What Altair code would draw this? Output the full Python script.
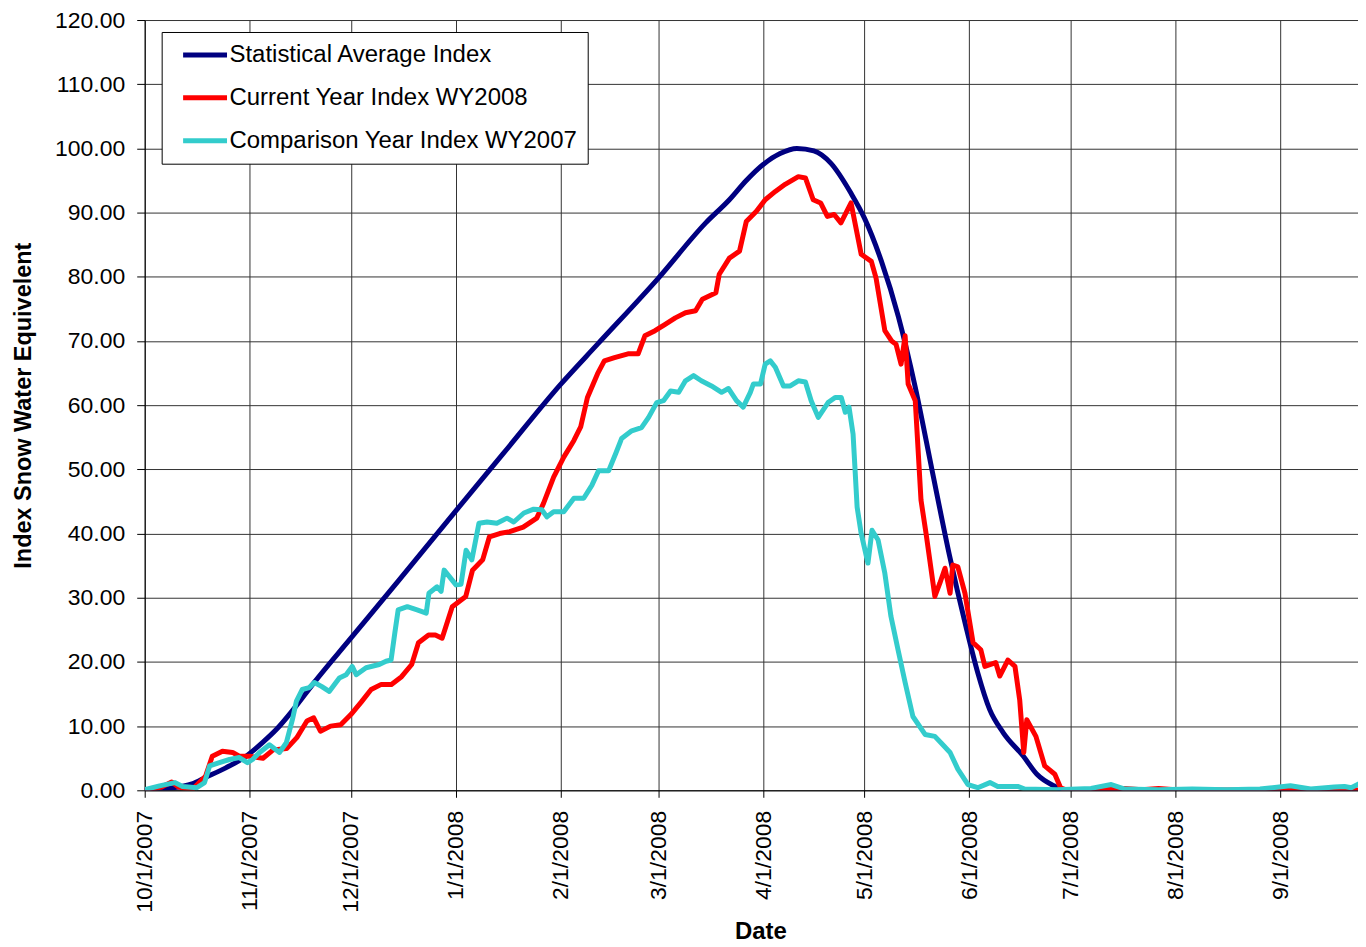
import altair as alt
import pandas as pd

BASE = pd.Timestamp("2007-10-01")

SERIES = ["Statistical Average Index", "Current Year Index WY2008", "Comparison Year Index WY2007"]
COLORS = ["#000080", "#FF0000", "#33CCCC"]

# day offsets from 10/1/2007 and index values
avg_days = [0, 7, 14, 18, 24, 30, 35, 39, 44, 50, 61, 75, 92, 106, 123, 134, 152, 166, 173, 178, 183,
            188, 193, 198, 203, 209, 213, 218, 223, 228, 233, 238, 243, 246.5, 250, 254, 260, 264,
            269, 272, 300, 330, 360]
avg_vals = [0, 0.3, 1.0, 2.0, 3.5, 5.3, 7.5, 9.5, 12.6, 16.7, 23.7, 32.6, 43.5, 52.4, 63.2, 69.5, 79.8,
            88.4, 92.0, 95.0, 97.5, 99.2, 100.0, 99.6, 97.7, 93.0, 89.1, 82.4, 73.8, 62.8, 49.8,
            36.9, 25.5, 18.3, 12.6, 9.0, 5.3, 2.5, 0.7, 0, 0, 0, 0]

cur_days = [0, 5, 8, 10, 14, 18, 20, 23, 26, 28, 31, 35, 38, 42, 45, 48, 50, 52, 55, 58, 61, 64, 67, 70,
            73, 76, 79, 81, 84, 86, 88, 91, 95, 97, 100, 102, 105, 108, 112, 116, 118, 121, 124, 127,
            129, 131, 134, 136, 139, 143, 146, 148, 151, 154, 157, 160, 163, 165, 169, 170, 173, 176,
            178, 181, 183.6, 186.6, 189.5, 193.4, 195.5, 197.8, 200, 202, 204, 206, 209, 212, 215,
            216.4, 219, 221, 222.3, 223.8, 225, 225.9, 228, 229.7, 231.2, 233.8, 235.3, 236.8, 238.3,
            239.1, 240.6, 242.7, 245.1, 247.4, 248.6, 251.8, 253, 255.4, 257.5, 258.9, 260.1, 261,
            263.7, 266.3, 269.3, 271, 273, 280, 290, 295, 300, 305, 315, 360]
cur_vals = [0, 0.5, 1.3, 0.5, 0.1, 2.2, 5.3, 6.1, 5.9, 5.3, 5.3, 5.0, 6.3, 6.5, 8.2, 10.8, 11.3, 9.2,
            10.0, 10.2, 11.8, 13.7, 15.7, 16.5, 16.5, 17.7, 19.6, 23.0, 24.2, 24.2, 23.7, 28.6, 30.2,
            34.3, 35.9, 39.5, 40.0, 40.3, 41.0, 42.4, 44.7, 48.8, 51.9, 54.5, 56.6, 61.2, 64.9, 66.9,
            67.4, 68.0, 68.0, 70.8, 71.6, 72.6, 73.6, 74.4, 74.7, 76.5, 77.5, 80.4, 82.9, 84.0, 88.6,
            90.2, 92.0, 93.3, 94.4, 95.6, 95.4, 92.0, 91.5, 89.4, 89.7, 88.4, 91.5, 83.5, 82.4, 79.8,
            71.6, 70.0, 69.5, 66.4, 70.8, 63.3, 60.7, 45.2, 40.0, 30.2, 32.3, 34.6, 30.7, 35.1, 34.8,
            30.7, 23.0, 21.9, 19.3, 19.9, 17.8, 20.3, 19.3, 14.1, 5.9, 11.0, 8.4, 3.8, 2.5, 0.4, 0,
            0.1, 0.3, 0.1, 0.3, 0.1, 0, 0]

cmp_days = [0, 4.4, 8.9, 11.2, 15.4, 17.7, 19.2, 22.1, 25.1, 28, 30.4, 31.9, 34, 36.9, 39.9, 41.9,
            43.7, 44.9, 46.6, 48.7, 50.2, 52.3, 54.6, 57.6, 59.6, 61.4, 62.6, 65.5, 69.4, 71.4, 72.9,
            74, 75, 77.7, 80.6, 83.3, 84.1, 86.5, 87.7, 88.6, 92.1, 93.6, 95.1, 96.8, 98.9, 101.3,
            104.2, 107.2, 109.2, 112.2, 115.1, 117.5, 119, 121, 124, 127, 129.9, 132.3, 134.3, 137.3,
            139.4, 141.1, 144.1, 147, 149.1, 151.5, 153.5, 155.6, 158, 160, 162.4, 164.7, 167.7,
            170.7, 172.7, 175.1, 177.1, 179.2, 180.1, 182.2, 183.6, 185.1, 186.6, 189, 191, 193.4,
            195.5, 197.2, 199.3, 202.2, 204.3, 206.1, 207.3, 208.4, 209.6, 210.8, 212, 214, 215.2,
            217, 219, 220.8, 222.9, 225, 227.3, 230.9, 233.8, 235.6, 238.3, 240.6, 243.6, 246.5,
            250.1, 252.4, 258.3, 260.4, 270, 280, 286, 290, 300, 310, 320, 330, 339, 345, 352, 355,
            357, 360]
cmp_vals = [0.1, 0.7, 1.2, 0.6, 0.4, 1.2, 3.8, 4.3, 4.8, 5.1, 4.3, 4.8, 5.9, 7.1, 5.9, 7.4, 11.0, 13.9,
            15.7, 16.0, 16.8, 16.2, 15.4, 17.5, 18.0, 19.3, 18.0, 19.1, 19.6, 20.1, 20.3, 24.5, 28.1,
            28.6, 28.1, 27.6, 30.7, 31.7, 31.0, 34.3, 32.0, 32.1, 37.4, 35.9, 41.6, 41.8, 41.6, 42.4,
            41.8, 43.2, 43.8, 43.7, 42.6, 43.4, 43.4, 45.5, 45.5, 47.5, 49.8, 49.8, 52.5, 54.8, 56.0,
            56.5, 58.1, 60.4, 60.7, 62.2, 62.0, 63.8, 64.6, 63.8, 63.0, 62.0, 62.6, 60.7, 59.7, 62.0,
            63.3, 63.3, 66.4, 66.9, 65.9, 63.0, 63.0, 63.8, 63.6, 60.7, 58.1, 60.4, 61.2, 61.2, 58.9,
            59.7, 55.5, 44.1, 40.0, 35.4, 40.5, 39.0, 33.8, 27.1, 21.9, 16.8, 11.5, 8.7, 8.4, 7.4,
            5.9, 3.3, 0.9, 0.4, 1.2, 0.6, 0.6, 0.2, 0.1, 0.3, 0.9, 0.2, 0.1, 0.2, 0.1, 0.2, 0.7, 0.2,
            0.5, 0.6, 0.4, 1.2]

Y_TICKS = list(range(0, 121, 10))
X_TICK_MONTHS = [(2007, 10), (2007, 11), (2007, 12), (2008, 1), (2008, 2), (2008, 3), (2008, 4),
                 (2008, 5), (2008, 6), (2008, 7), (2008, 8), (2008, 9)]


def frame(days, vals, name):
    dates = [(BASE + pd.Timedelta(days=d)).strftime("%Y-%m-%dT%H:%M:%SZ") for d in days]
    return pd.DataFrame({"date": dates, "value": vals, "series": name})


def dt(y, m, d):
    return alt.DateTime(year=y, month=m, date=d, utc=True)


x_enc = alt.X(
    "date:T",
    scale=alt.Scale(type="utc", domain=[dt(2007, 10, 1), dt(2008, 9, 24)]),
    axis=alt.Axis(
        values=[dt(y, m, 1) for y, m in X_TICK_MONTHS],
        format="%-m/%-d/%Y",
        labelAngle=270,
        labelFlush=False,
        labelOverlap=False,
        tickSize=7,
        labelPadding=13,
        labelFontSize=23,
        grid=True,
        title="Date",
        titleFontSize=24,
        titleFontWeight="bold",
        titleX=617,
        titleY=142,
        titleAlign="center",
        titleBaseline="middle",
    ),
)

y_enc = alt.Y(
    "value:Q",
    scale=alt.Scale(domain=[0, 120], nice=False),
    axis=alt.Axis(
        values=Y_TICKS,
        format=".2f",
        tickSize=8,
        labelPadding=12,
        labelFontSize=23,
        grid=True,
        title="Index Snow Water Equivelent",
        titleFontSize=23.5,
        titleFontWeight="bold",
        titleAngle=270,
        titleX=-121,
        titleY=386,
        titleAlign="center",
        titleBaseline="middle",
    ),
)

color_enc = alt.Color(
    "series:N",
    scale=alt.Scale(domain=SERIES, range=COLORS),
    sort=SERIES,
    legend=alt.Legend(
        title=None,
        orient="none",
        legendX=17,
        legendY=12,
        symbolType="stroke",
        symbolSize=1936,
        symbolStrokeWidth=5,
        labelFontSize=24,
        labelLimit=700,
        padding=10,
        clipHeight=26,
        rowPadding=17,
        symbolOffset=9,
        labelOffset=0,
        strokeColor="black",
        fillColor="white",
        labelExpr="datum.label + '\u00a0\u00a0\u00a0'",
    ),
)


def line(df, interp):
    return alt.Chart(df).mark_line(
        strokeWidth=5, clip=True, interpolate=interp, strokeJoin="round", strokeCap="round"
    ).encode(x=x_enc, y=y_enc, color=color_enc)


avg = line(frame(avg_days, avg_vals, SERIES[0]), "monotone")
cur = line(frame(cur_days, cur_vals, SERIES[1]), "linear")
cmp_ = line(frame(cmp_days, cmp_vals, SERIES[2]), "linear")

chart = (
    alt.layer(avg, cur, cmp_)
    .properties(
        width=1216,
        height=772,
        autosize=alt.AutoSizeParams(type="none"),
        padding={"left": 137, "top": 11, "right": 0, "bottom": 160},
        background="white",
    )
    .configure_view(stroke="transparent")
    .configure_axis(
        labelFont="Liberation Sans",
        titleFont="Liberation Sans",
        labelColor="black",
        titleColor="black",
        domainColor="black",
        tickColor="black",
        gridColor="#333333",
        gridWidth=1,
        domainWidth=1,
        tickWidth=1,
    )
    .configure_legend(labelFont="Liberation Sans", labelColor="black")
)

chart.save("out.html", embed_options={"renderer": "svg", "actions": False})
